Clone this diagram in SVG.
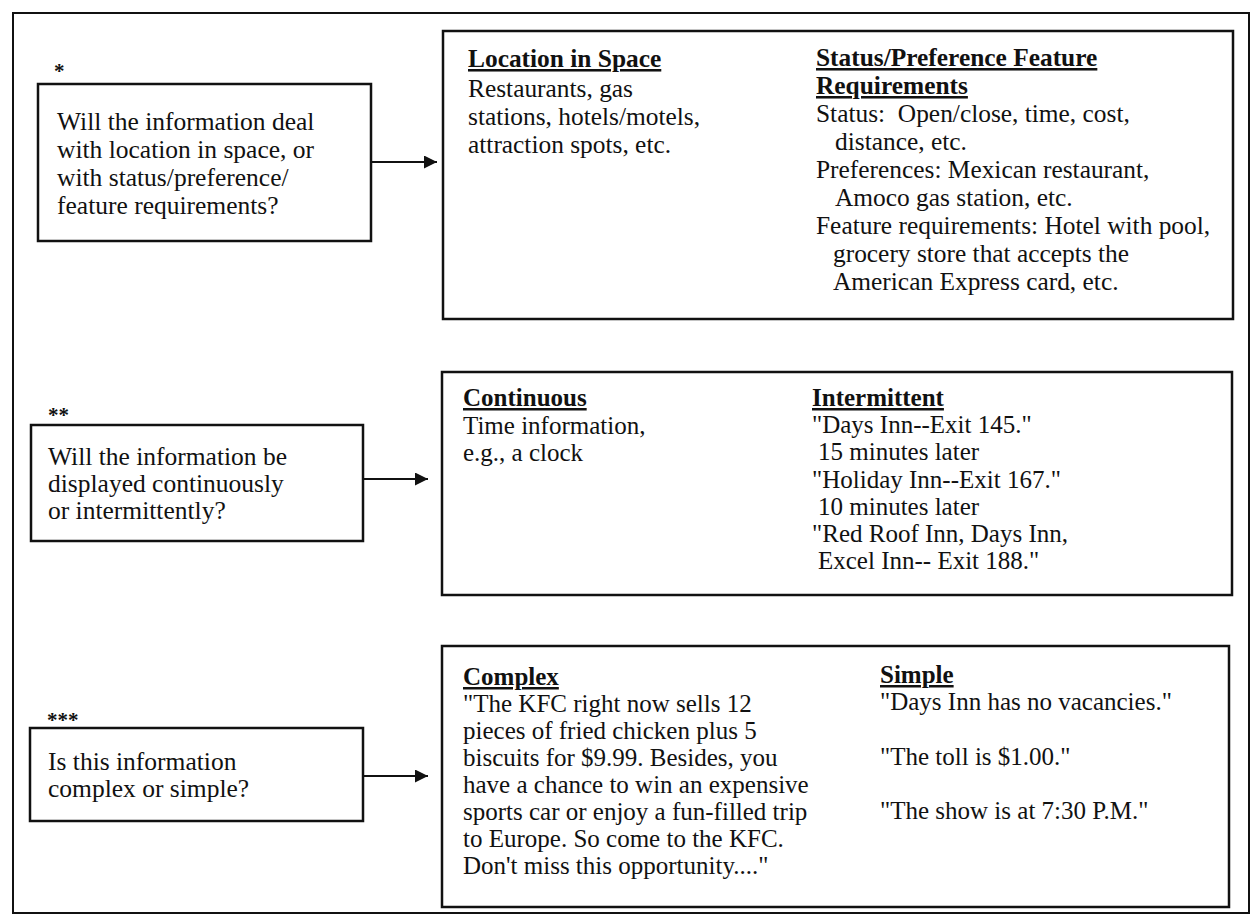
<svg xmlns="http://www.w3.org/2000/svg" width="1251" height="923" viewBox="0 0 1251 923">
<style>
.box{fill:none;stroke:#111;stroke-width:2.5}
.frame{fill:none;stroke:#111;stroke-width:2}
.t{font-family:"Liberation Serif","Times New Roman",serif;font-size:25px;fill:#111}
.q{font-size:25.5px}
.w{font-size:25.4px}
.h{font-weight:bold;text-decoration:underline}
.ast{font-family:"Liberation Serif","Times New Roman",serif;font-size:21px;font-weight:bold;fill:#111}
.conn{stroke:#111;stroke-width:2.2;fill:none}
</style>
<defs>
<marker id="arr" markerUnits="userSpaceOnUse" markerWidth="13" markerHeight="13" refX="13" refY="6.5" orient="auto">
<path d="M0,0 L13,6.5 L0,13 z" fill="#111"/>
</marker>
</defs>
<rect width="1251" height="923" fill="#fff"/>
<rect id="frame" class="frame" x="13" y="13" width="1236" height="900"/>

<g id="q1">
<text class="ast" x="54" y="78">*</text>
<rect class="box" x="38" y="84" width="333" height="157"/>
<text class="t q" x="57" y="130">Will the information deal</text>
<text class="t q" x="57" y="158">with location in space, or</text>
<text class="t q" x="57" y="186">with status/preference/</text>
<text class="t q" x="57" y="214">feature requirements?</text>
</g>

<g id="a1">
<rect class="box" x="443" y="31" width="790" height="288"/>
<text class="t w h" x="468" y="67">Location in Space</text>
<text class="t w" x="468" y="97">Restaurants, gas</text>
<text class="t w" x="468" y="125">stations, hotels/motels,</text>
<text class="t w" x="468" y="153">attraction spots, etc.</text>
<text class="t w h" x="816" y="66">Status/Preference Feature</text>
<text class="t w h" x="816" y="94">Requirements</text>
<text class="t w" x="816" y="122" xml:space="preserve">Status:  Open/close, time, cost,</text>
<text class="t w" x="835" y="150">distance, etc.</text>
<text class="t w" x="816" y="178">Preferences: Mexican restaurant,</text>
<text class="t w" x="835" y="206">Amoco gas station, etc.</text>
<text class="t w" x="816" y="234">Feature requirements: Hotel with pool,</text>
<text class="t w" x="833" y="262">grocery store that accepts the</text>
<text class="t w" x="833" y="290">American Express card, etc.</text>
</g>

<g id="q2">
<text class="ast" x="48" y="422">**</text>
<rect class="box" x="31" y="425" width="332" height="116"/>
<text class="t q" x="48" y="465">Will the information be</text>
<text class="t q" x="48" y="492">displayed continuously</text>
<text class="t q" x="48" y="519">or intermittently?</text>
</g>

<g id="a2">
<rect class="box" x="442" y="372" width="790" height="223"/>
<text class="t h" x="463" y="406">Continuous</text>
<text class="t" x="463" y="434">Time information,</text>
<text class="t" x="463" y="461">e.g., a clock</text>
<text class="t h" x="812" y="406">Intermittent</text>
<text class="t" x="812" y="433">"Days Inn--Exit 145."</text>
<text class="t" x="818" y="460">15 minutes later</text>
<text class="t" x="812" y="488">"Holiday Inn--Exit 167."</text>
<text class="t" x="818" y="515">10 minutes later</text>
<text class="t" x="812" y="542">"Red Roof Inn, Days Inn,</text>
<text class="t" x="818" y="569">Excel Inn-- Exit 188."</text>
</g>

<g id="q3">
<text class="ast" x="47" y="727">***</text>
<rect class="box" x="30" y="728" width="333" height="93"/>
<text class="t q" x="48" y="770">Is this information</text>
<text class="t q" x="48" y="797">complex or simple?</text>
</g>

<g id="a3">
<rect class="box" x="442" y="646" width="787" height="261"/>
<text class="t h" x="463" y="685">Complex</text>
<text class="t" x="463" y="712">"The KFC right now sells 12</text>
<text class="t" x="463" y="739">pieces of fried chicken plus 5</text>
<text class="t" x="463" y="766">biscuits for $9.99. Besides, you</text>
<text class="t" x="463" y="793">have a chance to win an expensive</text>
<text class="t" x="463" y="820">sports car or enjoy a fun-filled trip</text>
<text class="t" x="463" y="847">to Europe. So come to the KFC.</text>
<text class="t" x="463" y="874">Don't miss this opportunity...."</text>
<text class="t h" x="880" y="683">Simple</text>
<text class="t" x="880" y="710">"Days Inn has no vacancies."</text>
<text class="t" x="880" y="765">"The toll is $1.00."</text>
<text class="t" x="880" y="819">"The show is at 7:30 P.M."</text>
</g>

<g id="connectors">
<line class="conn" x1="371" y1="162" x2="437" y2="162" marker-end="url(#arr)"/>
<line class="conn" x1="363" y1="479" x2="428" y2="479" marker-end="url(#arr)"/>
<line class="conn" x1="363" y1="776" x2="428" y2="776" marker-end="url(#arr)"/>
</g>
</svg>
